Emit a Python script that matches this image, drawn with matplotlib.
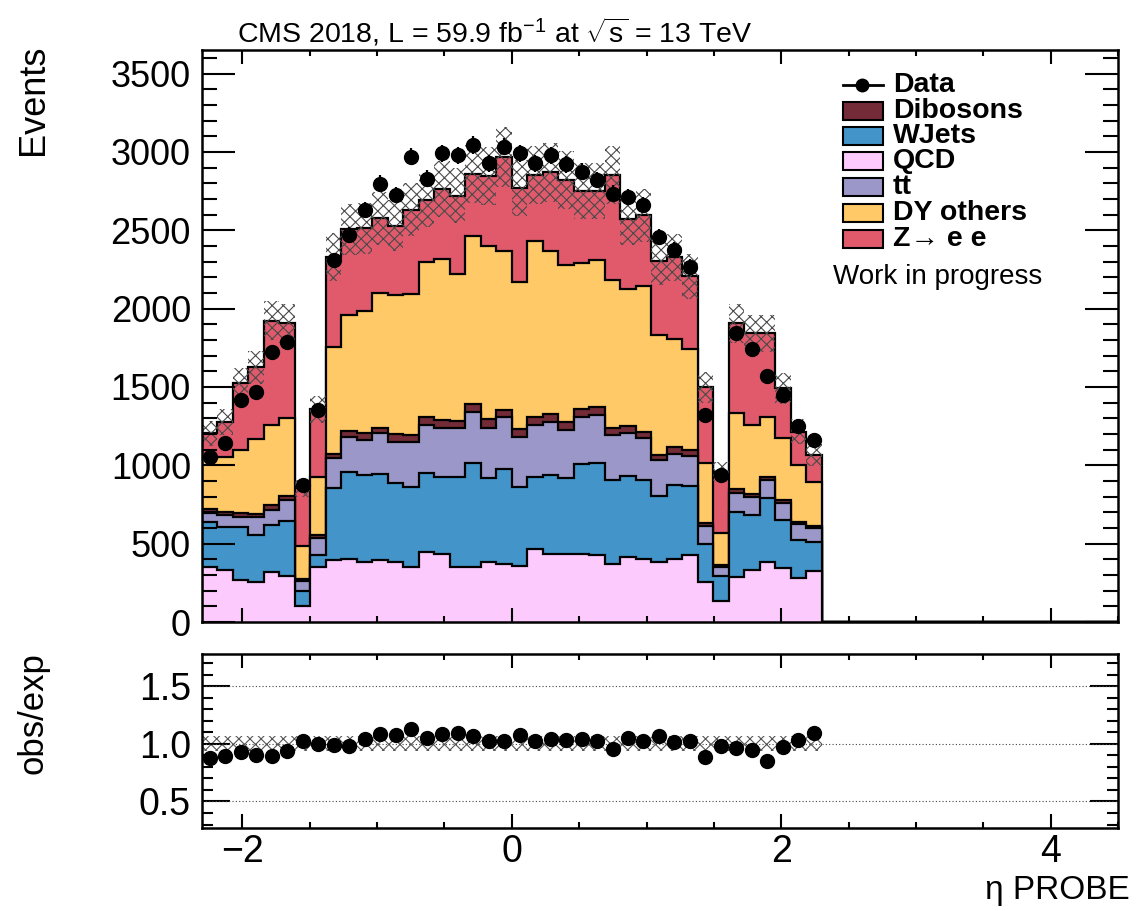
import numpy as np
import matplotlib
matplotlib.use("Agg")
import matplotlib.pyplot as plt
from matplotlib.lines import Line2D
from matplotlib.patches import Rectangle
from matplotlib.ticker import MultipleLocator, FormatStrFormatter

# eta PROBE binning: bins of 0.115 starting at -2.3, first 40 filled
eta_lo = -2.3
eta_hi = 4.5
bin_width = 0.115
n_bins = 60

# per-bin yields (stack order, bottom to top)
qcd = [353, 331, 268, 257, 321, 293, 102, 349,
       395, 401, 384, 395, 384, 352, 444, 437, 352, 352, 384, 373,
       356, 469, 433, 433, 437, 427, 373, 416, 399, 384, 405, 425,
       257, 136, 289, 331, 385, 342, 283, 325]
wjets = [283, 277, 338, 298, 298, 353, 98, 78,
         457, 557, 553, 549, 500, 511, 508, 490, 575, 660, 532, 602,
         507, 458, 504, 483, 570, 589, 536, 515, 506, 421, 468, 440,
         238, 157, 415, 351, 404, 309, 240, 183]
ttbar = [57, 74, 61, 112, 95, 132, 61, 107,
         192, 224, 223, 259, 266, 287, 304, 308, 308, 329, 319, 330,
         319, 329, 340, 308, 302, 304, 283, 272, 266, 228, 202, 195,
         117, 60, 121, 117, 117, 110, 100, 89]
dibosons = [25, 22, 26, 22, 32, 26, 13, 21,
            31, 36, 43, 36, 50, 45, 55, 55, 50, 50, 60, 45,
            50, 50, 50, 55, 50, 50, 43, 45, 43, 32, 40, 38,
            17, 10, 21, 15, 17, 17, 17, 15]
dy_others = [326, 351, 404, 476, 511, 495, 213, 372,
             681, 740, 783, 862, 887, 898, 989, 1027, 936, 1075, 1106, 1017,
             936, 1128, 1042, 1000, 935, 940, 946, 878, 931, 765, 691, 645,
             383, 207, 485, 443, 387, 394, 362, 283]
z_ee = [160, 223, 426, 460, 666, 606, 366, 430,
        574, 547, 525, 474, 442, 538, 394, 447, 500, 393, 447, 599,
        602, 421, 500, 542, 458, 443, 670, 447, 451, 473, 521, 464,
        485, 389, 574, 585, 532, 319, 212, 170]
data = [1055, 1140, 1416, 1469, 1725, 1788, 874, 1352,
        2309, 2469, 2628, 2798, 2724, 2968, 2830, 2990, 2979, 3043, 2926, 3032,
        2990, 2926, 2979, 2920, 2873, 2820, 2734, 2713, 2660, 2458, 2373, 2267,
        1321, 938, 1842, 1740, 1569, 1448, 1250, 1161]
mc_rel_unc = 0.065

stack = [
    ("QCD", qcd, "#fdcafd"),
    ("WJets", wjets, "#4394c8"),
    ("tt", ttbar, "#9b98c9"),
    ("Dibosons", dibosons, "#722b37"),
    ("DY others", dy_others, "#fec966"),
    ("Z\u2192 e e", z_ee, "#e05a6c"),
]
legend_order = ["Dibosons", "WJets", "QCD", "tt", "DY others", "Z\u2192 e e"]

W, H = 1136, 911


def fx(px):
    return px / W


def fy(py):
    return 1 - py / H


plt.rcParams["font.family"] = ["Liberation Sans", "DejaVu Sans"]
plt.rcParams["mathtext.fontset"] = "custom"
plt.rcParams["mathtext.rm"] = "Liberation Sans"
plt.rcParams["mathtext.it"] = "Liberation Sans:italic"
plt.rcParams["hatch.linewidth"] = 0.8

fig = plt.figure(figsize=(W / 100, H / 100), dpi=100)
ax = fig.add_axes([fx(202), fy(622), fx(1118) - fx(202), fy(50) - fy(622)])
axr = fig.add_axes([fx(202), fy(828), fx(1118) - fx(202), fy(654) - fy(828)])

edges = eta_lo + bin_width * np.arange(n_bins + 1)
n_fill = len(data)
centers = edges[:n_fill] + bin_width / 2


def pad(vals):
    vals = np.asarray(vals, dtype=float)
    return np.concatenate([vals, np.zeros(n_bins - len(vals))])


cum = np.zeros(n_bins)
layers = []
for name, vals, color in stack:
    cum = cum + pad(vals)
    layers.append((cum.copy(), color))
for top, color in reversed(layers):
    ax.stairs(top, edges, baseline=0, fill=True, facecolor=color,
              edgecolor="black", lw=1.6)

total = layers[-1][0]
unc = total * mc_rel_unc
ax.stairs(total + unc, edges, baseline=total - unc, fill=True,
          facecolor="none", edgecolor="#4a4a4a", hatch="xxx", lw=0)

data_arr = np.asarray(data, dtype=float)
ax.errorbar(centers, data_arr, yerr=np.sqrt(data_arr), fmt="o", color="black",
            ms=10, elinewidth=1.6, capsize=0)

ax.set_xlim(eta_lo, eta_hi)
ax.set_ylim(0, 3650)
ax.yaxis.set_major_locator(MultipleLocator(500))
ax.yaxis.set_minor_locator(MultipleLocator(100))
ax.xaxis.set_major_locator(MultipleLocator(2))
ax.xaxis.set_minor_locator(MultipleLocator(0.5))
ax.tick_params(which="both", direction="in", top=True, right=True, width=1.5)
ax.tick_params(axis="y", which="major", length=24, labelsize=26, pad=8)
ax.tick_params(axis="y", which="minor", length=11)
ax.tick_params(axis="x", which="major", length=10)
ax.tick_params(axis="x", which="minor", length=4)
ax.tick_params(labelbottom=False)

# ratio panel
ratio = data_arr / total[:n_fill]
ratio_err = np.sqrt(data_arr) / total[:n_fill]
for yv in (0.5, 1.0, 1.5):
    axr.axhline(yv, color="#444444", lw=0.8, ls=(0, (1, 2)))
axr.stairs(np.full(n_fill, 1 + mc_rel_unc), edges[:n_fill + 1],
           baseline=1 - mc_rel_unc, fill=True, facecolor="none",
           edgecolor="#555555", hatch="xxx", lw=0)
axr.errorbar(centers, ratio, yerr=ratio_err, fmt="o", color="black", ms=10,
             elinewidth=1.6, capsize=0)
axr.set_xlim(eta_lo, eta_hi)
axr.set_ylim(0.27, 1.78)
axr.yaxis.set_major_locator(MultipleLocator(0.5))
axr.yaxis.set_minor_locator(MultipleLocator(0.1))
axr.yaxis.set_major_formatter(FormatStrFormatter("%.1f"))
axr.xaxis.set_major_locator(MultipleLocator(2))
axr.xaxis.set_minor_locator(MultipleLocator(0.5))
axr.tick_params(which="both", direction="in", top=True, right=True, width=1.5)
axr.tick_params(axis="y", which="major", length=20, labelsize=27, pad=8)
axr.tick_params(axis="y", which="minor", length=8)
axr.tick_params(axis="x", which="major", length=10, labelsize=27, pad=4)
axr.tick_params(axis="x", which="minor", length=4.5)

for a in (ax, axr):
    for sp in a.spines.values():
        sp.set_linewidth(1.8)

# texts
fig.text(fx(237), fy(32), r"CMS 2018, L = 59.9 fb$^{\mathrm{-1}}$ at $\sqrt{\mathrm{s}}$ = 13 TeV",
         ha="left", va="center", fontsize=20.5)
fig.text(fx(33), fy(45), "Events", rotation=90, ha="center", va="top", fontsize=26)
fig.text(fx(33), fy(652), "obs/exp", rotation=90, ha="center", va="top", fontsize=25)
fig.text(fx(1130), fy(899), "\u03b7 PROBE", ha="right", va="baseline", fontsize=24)

# legend
row_y = [85, 111, 136, 161, 187, 213, 239]
fig.add_artist(Line2D([fx(843), fx(883)], [fy(row_y[0])] * 2, color="black", lw=2))
fig.add_artist(Line2D([fx(862)], [fy(row_y[0])], marker="o", ms=9, color="black"))
fig.text(fx(893), fy(row_y[0]), "Data", ha="left", va="center", fontsize=20.5, weight="bold")
colors = {name: color for name, vals, color in stack}
for name, yy in zip(legend_order, row_y[1:]):
    fig.add_artist(Rectangle((fx(843), fy(yy + 8.5)), fx(883) - fx(843), 17 / H,
                             facecolor=colors[name], edgecolor="black", lw=1.5))
    fig.text(fx(893), fy(yy), name, ha="left", va="center", fontsize=20.5, weight="bold")
fig.text(fx(833), fy(277), "Work in progress", ha="left", va="center", fontsize=20)

fig.savefig("out.png", dpi=100, facecolor="white")
